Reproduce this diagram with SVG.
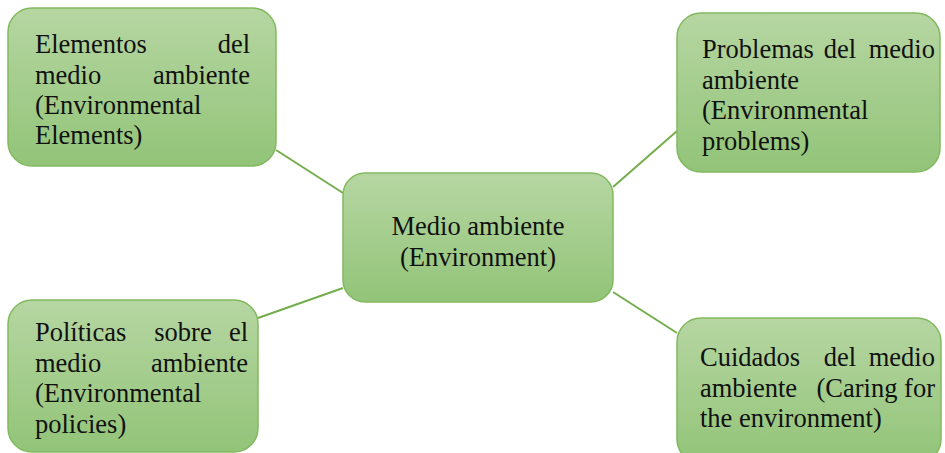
<svg xmlns="http://www.w3.org/2000/svg" width="945" height="453" viewBox="0 0 945 453">
<defs>
<linearGradient id="g" x1="0" y1="0" x2="0" y2="1">
<stop offset="0" stop-color="#b6d6a2"/>
<stop offset="1" stop-color="#92c478"/>
</linearGradient>
<style>
.box{fill:url(#g);stroke:#82b95f;stroke-width:1.5}
.t{font-size:26.5px;fill:#111}
.e{text-anchor:end}
.m{text-anchor:middle}
.c{stroke:#74ae4c;stroke-width:2;fill:none}
</style>
</defs>
<rect width="945" height="453" fill="#fff"/>
<g id="connectors">
<line class="c" x1="276" y1="150" x2="343" y2="193"/>
<line class="c" x1="613" y1="187" x2="677" y2="131"/>
<line class="c" x1="343" y1="288" x2="258" y2="318"/>
<line class="c" x1="613" y1="292" x2="677" y2="333"/>
</g>
<g font-family="Liberation Serif, Tinos, DejaVu Serif, serif">
<g id="center">
<rect class="box" x="343" y="173" width="270" height="129" rx="22"/>
<text class="t m" x="478" y="235">Medio ambiente</text>
<text class="t m" x="478" y="266">(Environment)</text>
</g>
<g id="elements">
<rect class="box" x="8" y="8" width="268" height="158" rx="24"/>
<text class="t" x="35" y="53">Elementos</text>
<text class="t e" x="250" y="53">del</text>
<text class="t" x="35" y="84">medio</text>
<text class="t e" x="250" y="84">ambiente</text>
<text class="t" x="35" y="114">(Environmental</text>
<text class="t" x="35" y="144">Elements)</text>
</g>
<g id="problems">
<rect class="box" x="677" y="13" width="263" height="159" rx="24"/>
<text class="t" x="702" y="58">Problemas</text>
<text class="t m" x="840" y="58">del</text>
<text class="t e" x="935" y="58">medio</text>
<text class="t" x="702" y="89">ambiente</text>
<text class="t" x="702" y="119">(Environmental</text>
<text class="t" x="702" y="150">problems)</text>
</g>
<g id="policies">
<rect class="box" x="8" y="300" width="250" height="152" rx="24"/>
<text class="t" x="35" y="341">Políticas</text>
<text class="t m" x="183" y="341">sobre</text>
<text class="t e" x="248" y="341">el</text>
<text class="t" x="35" y="372">medio</text>
<text class="t e" x="248" y="372">ambiente</text>
<text class="t" x="35" y="402">(Environmental</text>
<text class="t" x="35" y="433">policies)</text>
</g>
<g id="caring">
<rect class="box" x="677" y="318" width="264" height="145" rx="24"/>
<text class="t" x="700" y="366">Cuidados</text>
<text class="t m" x="840" y="366">del</text>
<text class="t e" x="935" y="366">medio</text>
<text class="t" x="700" y="397">ambiente</text>
<text class="t e" x="935" y="397">(Caring for</text>
<text class="t" x="700" y="427">the environment)</text>
</g>
</g>
</svg>
